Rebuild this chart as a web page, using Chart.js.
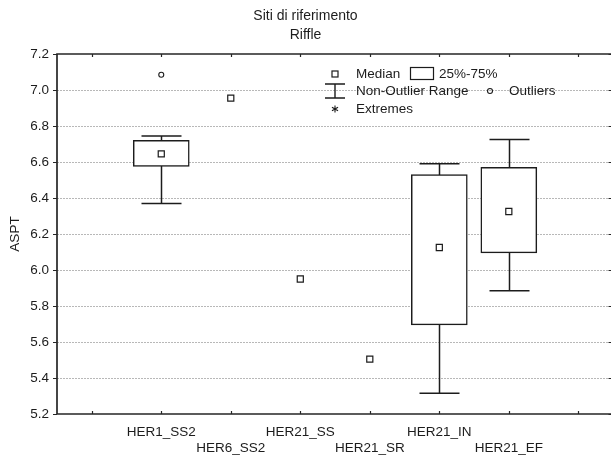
<!DOCTYPE html>
<html>
<head>
<meta charset="utf-8">
<title>Siti di riferimento – Riffle</title>
<script src="https://cdn.jsdelivr.net/npm/chart.js@4/dist/chart.umd.min.js"></script>
<style>
  html, body { margin: 0; padding: 0; background: #fff; }
  #c { display: block; }
</style>
</head>
<body>
<canvas id="c" width="611" height="455"></canvas>
<script>
// ---- data -------------------------------------------------------------
const categories = ['HER1_SS2', 'HER6_SS2', 'HER21_SS', 'HER21_SR', 'HER21_IN', 'HER21_EF'];
const medians    = [6.645, 6.955, 5.95, 5.505, 6.125, 6.325];
const q1         = [6.575, null, null, null, 5.695, 6.095];   // 25th percentile
const q3         = [6.72,  null, null, null, 6.53,  6.57];    // 75th percentile
const rangeMin   = [6.37,  null, null, null, 5.315, 5.885];   // non-outlier minimum
const rangeMax   = [6.745, null, null, null, 6.59,  6.725];   // non-outlier maximum
const outliers   = [[7.085], [], [], [], [], []];

const xTickValues = [-1, 0, 1, 2, 3, 4, 5, 6];
const yTickValues = [5.2, 5.4, 5.6, 5.8, 6.0, 6.2, 6.4, 6.6, 6.8, 7.0, 7.2];

const titleLines = ['Siti di riferimento', 'Riffle'];
const yTitle = 'ASPT';

// ---- styling ------------------------------------------------------------
const FONT = 'Arial, "Liberation Sans", Helvetica, sans-serif';
const INK = '#1c1c1c';
const AXIS = '#262626';
const GRID = '#b8b8b8';

const boxData = categories
  .map((c, i) => (q1[i] == null ? null : { x: i, y: [q1[i], q3[i]] }))
  .filter(Boolean);
const medianData = medians.map((v, i) => ({ x: i, y: v }));
const outlierData = outliers.flatMap((vals, i) => vals.map(v => ({ x: i, y: v })));

// Dotted grid + whiskers behind the boxes; frame, tick marks and key on top.
const boxPlotDecor = {
  id: 'boxPlotDecor',
  beforeDatasetsDraw(chart) {
    const { ctx, chartArea: a, scales: { x, y } } = chart;
    ctx.save();
    // horizontal dotted grid
    ctx.strokeStyle = GRID;
    ctx.lineWidth = 1;
    ctx.setLineDash([2, 1]);
    yTickValues.forEach(v => {
      if (v === y.min || v === y.max) return;
      const py = Math.round(y.getPixelForValue(v)) + 0.5;
      ctx.beginPath();
      ctx.moveTo(a.left, py);
      ctx.lineTo(a.right, py);
      ctx.stroke();
    });
    ctx.setLineDash([]);
    // whiskers (non-outlier range)
    ctx.strokeStyle = INK;
    ctx.lineWidth = 1.5;
    const half = 20;
    categories.forEach((c, i) => {
      if (rangeMin[i] == null) return;
      const px = Math.round(x.getPixelForValue(i)) + 0.5;
      const yLo = y.getPixelForValue(rangeMin[i]);
      const yHi = y.getPixelForValue(rangeMax[i]);
      ctx.beginPath();
      ctx.moveTo(px, yHi); ctx.lineTo(px, yLo);
      ctx.moveTo(px - half, yHi); ctx.lineTo(px + half, yHi);
      ctx.moveTo(px - half, yLo); ctx.lineTo(px + half, yLo);
      ctx.stroke();
    });
    ctx.restore();
  },
  afterDatasetsDraw(chart) {
    const { ctx, chartArea: a, scales: { x, y } } = chart;
    ctx.save();
    ctx.strokeStyle = AXIS;
    ctx.lineWidth = 1.7;
    // frame: top, left, bottom
    ctx.beginPath();
    ctx.moveTo(a.right, a.top); ctx.lineTo(a.left, a.top);
    ctx.lineTo(a.left, a.bottom); ctx.lineTo(a.right, a.bottom);
    ctx.stroke();
    ctx.lineWidth = 1.2;
    ctx.beginPath();
    xTickValues.forEach(v => {
      const px = Math.round(x.getPixelForValue(v)) + 0.5;
      ctx.moveTo(px, a.top); ctx.lineTo(px, a.top + 3);
      ctx.moveTo(px, a.bottom); ctx.lineTo(px, a.bottom - 3);
    });
    yTickValues.forEach(v => {
      const py = Math.round(y.getPixelForValue(v)) + 0.5;
      ctx.moveTo(a.left, py); ctx.lineTo(a.left - 4, py);
      ctx.moveTo(a.right, py); ctx.lineTo(a.right - 2.5, py);
    });
    ctx.stroke();

    // key
    const L = a.left;     // anchor to plot's left edge
    const T = a.top;
    const sx = L + 278;   // symbol column
    const tx = L + 299;   // text column
    const r1 = T + 20, r2 = T + 37, r3 = T + 55;
    ctx.fillStyle = INK;
    ctx.strokeStyle = INK;
    ctx.lineWidth = 1.2;
    ctx.font = '13.5px ' + FONT;
    ctx.textBaseline = 'middle';
    ctx.textAlign = 'left';
    // median marker
    ctx.strokeRect(sx - 3, r1 - 3, 6, 6);
    ctx.fillText('Median', tx, r1);
    // box
    ctx.strokeRect(L + 353.5, r1 - 6.5, 23, 12);
    ctx.fillText('25%-75%', L + 382, r1);
    // whisker
    ctx.lineWidth = 1.4;
    ctx.beginPath();
    ctx.moveTo(sx - 10, r2 - 7); ctx.lineTo(sx + 10, r2 - 7);
    ctx.moveTo(sx, r2 - 7); ctx.lineTo(sx, r2 + 7);
    ctx.moveTo(sx - 10, r2 + 7); ctx.lineTo(sx + 10, r2 + 7);
    ctx.stroke();
    ctx.fillText('Non-Outlier Range', tx, r2);
    // outlier
    ctx.lineWidth = 1.1;
    ctx.beginPath();
    ctx.arc(L + 433, r2, 2.5, 0, Math.PI * 2);
    ctx.stroke();
    ctx.fillText('Outliers', L + 452, r2);
    // extremes (asterisk)
    ctx.beginPath();
    const s = 3.5;
    ctx.moveTo(sx, r3 - s); ctx.lineTo(sx, r3 + s);
    ctx.moveTo(sx - s * 0.87, r3 - s / 2); ctx.lineTo(sx + s * 0.87, r3 + s / 2);
    ctx.moveTo(sx - s * 0.87, r3 + s / 2); ctx.lineTo(sx + s * 0.87, r3 - s / 2);
    ctx.stroke();
    ctx.fillText('Extremes', tx, r3);
    ctx.restore();
  }
};

new Chart(document.getElementById('c'), {
  type: 'bar',
  data: {
    datasets: [
      {
        type: 'bar',
        label: '25%-75%',
        data: boxData,
        backgroundColor: '#ffffff',
        borderColor: INK,
        borderWidth: 1.5,
        borderSkipped: false,
        barThickness: 56,
        grouped: false,
        order: 3
      },
      {
        type: 'scatter',
        label: 'Median',
        data: medianData,
        pointStyle: 'rect',
        pointRadius: 4.3,
        pointBorderWidth: 1.2,
        pointBackgroundColor: '#ffffff',
        pointBorderColor: INK,
        order: 1
      },
      {
        type: 'scatter',
        label: 'Outliers',
        data: outlierData,
        pointStyle: 'circle',
        pointRadius: 2.5,
        pointBorderWidth: 1.1,
        pointBackgroundColor: '#ffffff',
        pointBorderColor: INK,
        order: 2
      }
    ]
  },
  options: {
    responsive: false,
    animation: false,
    devicePixelRatio: 1,
    layout: { padding: 0, autoPadding: false },
    plugins: {
      legend: { display: false },
      tooltip: { enabled: false },
      title: {
        display: true,
        text: titleLines,
        color: INK,
        font: { family: FONT, size: 14, weight: 'normal', lineHeight: 19.3 / 14 },
        padding: { top: 6, bottom: 9.4 }
      }
    },
    scales: {
      x: {
        type: 'linear',
        offset: false,
        min: -1.5,
        max: 6.47,
        grid: { display: false, drawTicks: false, offset: false },
        border: { display: false },
        afterBuildTicks: s => { s.ticks = xTickValues.map(v => ({ value: v })); },
        afterFit: s => { s.height = 41; s.paddingLeft = 0; s.paddingRight = 0; },
        ticks: {
          autoSkip: false,
          maxRotation: 0,
          minRotation: 0,
          padding: 10,
          color: INK,
          font: { family: FONT, size: 13.5, lineHeight: 16 / 13.5 },
          callback: v => {
            const i = Math.round(v);
            if (i < 0 || i >= categories.length) return '';
            return i % 2 ? ['', categories[i]] : categories[i];
          }
        }
      },
      y: {
        min: 5.2,
        max: 7.2,
        grid: { display: false, drawTicks: false },
        border: { display: false },
        afterBuildTicks: s => { s.ticks = yTickValues.map(v => ({ value: v })); },
        afterFit: s => { s.width = 57; },
        ticks: {
          padding: 8,
          color: INK,
          font: { family: FONT, size: 13.5 },
          callback: v => Number(v).toFixed(1)
        },
        title: {
          display: true,
          text: yTitle,
          color: INK,
          font: { family: FONT, size: 13.5 },
          padding: { top: 7, bottom: 0 }
        }
      }
    }
  },
  plugins: [boxPlotDecor]
});
</script>
</body>
</html>
